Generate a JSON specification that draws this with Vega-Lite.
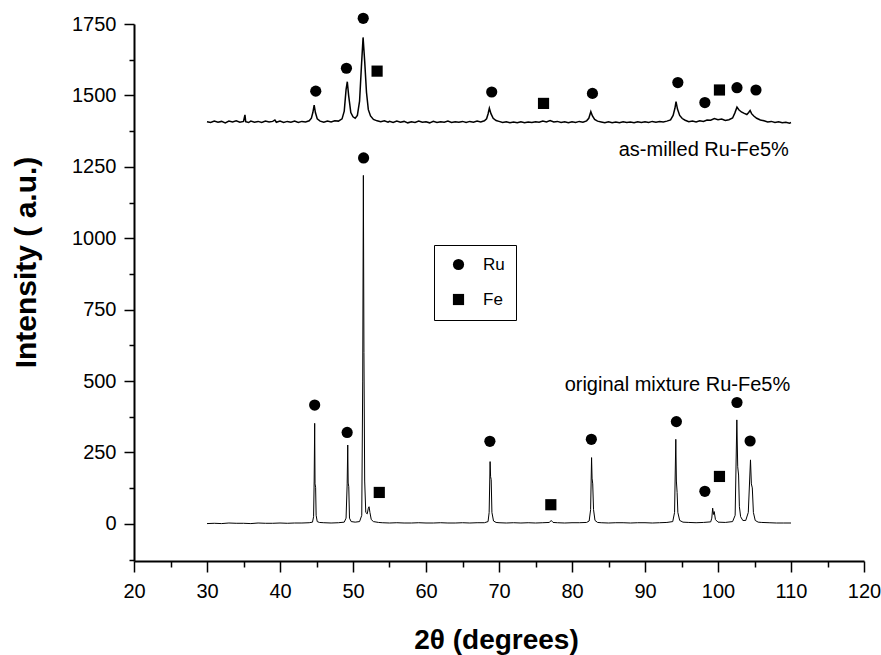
{
  "$schema": "https://vega.github.io/schema/vega-lite/v6.json",
  "autosize": {"type": "none"},
  "padding": {"left": 134, "top": 24, "right": 17, "bottom": 94},
  "width": 730,
  "height": 537,
  "background": "white",
  "config": {
    "view": {"stroke": null},
    "font": "Liberation Sans",
    "axis": {
      "grid": false,
      "domainColor": "black",
      "domainWidth": 2,
      "tickColor": "black",
      "tickWidth": 1.5,
      "labelColor": "black",
      "labelFont": "Liberation Sans",
      "labelFontSize": 20,
      "titleColor": "black",
      "titleFont": "Liberation Sans",
      "titleFontWeight": "bold"
    }
  },
  "datasets": {
    "trace": [
      {"series":"orig","angle":30,"intensity":1},{"series":"orig","angle":31,"intensity":2},{"series":"orig","angle":32,"intensity":1},{"series":"orig","angle":33,"intensity":3},{"series":"orig","angle":34,"intensity":2},{"series":"orig","angle":35,"intensity":2},{"series":"orig","angle":36,"intensity":1},{"series":"orig","angle":37,"intensity":3},{"series":"orig","angle":38,"intensity":2},{"series":"orig","angle":39,"intensity":2},{"series":"orig","angle":40,"intensity":3},{"series":"orig","angle":41,"intensity":2},{"series":"orig","angle":42,"intensity":3},{"series":"orig","angle":43,"intensity":3},{"series":"orig","angle":44,"intensity":4},
      {"series":"orig","angle":44.45,"intensity":6},{"series":"orig","angle":44.6,"intensity":25},{"series":"orig","angle":44.68,"intensity":150},{"series":"orig","angle":44.75,"intensity":352},{"series":"orig","angle":44.8,"intensity":140},{"series":"orig","angle":44.88,"intensity":128},{"series":"orig","angle":44.95,"intensity":30},{"series":"orig","angle":45.1,"intensity":8},{"series":"orig","angle":45.4,"intensity":5},{"series":"orig","angle":46,"intensity":4},{"series":"orig","angle":47,"intensity":3},{"series":"orig","angle":48,"intensity":4},{"series":"orig","angle":48.8,"intensity":6},
      {"series":"orig","angle":49.05,"intensity":20},{"series":"orig","angle":49.2,"intensity":140},{"series":"orig","angle":49.28,"intensity":276},{"series":"orig","angle":49.34,"intensity":143},{"series":"orig","angle":49.42,"intensity":130},{"series":"orig","angle":49.52,"intensity":20},{"series":"orig","angle":49.75,"intensity":8},{"series":"orig","angle":50.3,"intensity":6},{"series":"orig","angle":50.9,"intensity":8},{"series":"orig","angle":51.2,"intensity":30},{"series":"orig","angle":51.33,"intensity":500},{"series":"orig","angle":51.42,"intensity":1220},{"series":"orig","angle":51.5,"intensity":600},{"series":"orig","angle":51.6,"intensity":150},{"series":"orig","angle":51.75,"intensity":40},{"series":"orig","angle":51.95,"intensity":35},{"series":"orig","angle":52.1,"intensity":55},{"series":"orig","angle":52.2,"intensity":60},{"series":"orig","angle":52.32,"intensity":40},{"series":"orig","angle":52.5,"intensity":15},{"series":"orig","angle":52.8,"intensity":8},{"series":"orig","angle":53.5,"intensity":5},{"series":"orig","angle":54,"intensity":4},{"series":"orig","angle":55,"intensity":3},{"series":"orig","angle":56,"intensity":4},{"series":"orig","angle":57,"intensity":3},{"series":"orig","angle":58,"intensity":3},{"series":"orig","angle":59,"intensity":4},{"series":"orig","angle":60,"intensity":3},{"series":"orig","angle":61,"intensity":3},{"series":"orig","angle":62,"intensity":4},{"series":"orig","angle":63,"intensity":3},{"series":"orig","angle":64,"intensity":3},{"series":"orig","angle":65,"intensity":4},{"series":"orig","angle":66,"intensity":3},{"series":"orig","angle":67,"intensity":4},{"series":"orig","angle":68,"intensity":4},
      {"series":"orig","angle":68.5,"intensity":8},{"series":"orig","angle":68.65,"intensity":40},{"series":"orig","angle":68.78,"intensity":218},{"series":"orig","angle":68.85,"intensity":165},{"series":"orig","angle":68.93,"intensity":155},{"series":"orig","angle":69.03,"intensity":40},{"series":"orig","angle":69.25,"intensity":10},{"series":"orig","angle":69.6,"intensity":5},{"series":"orig","angle":70,"intensity":4},{"series":"orig","angle":71,"intensity":3},{"series":"orig","angle":72,"intensity":4},{"series":"orig","angle":73,"intensity":3},{"series":"orig","angle":74,"intensity":4},{"series":"orig","angle":75,"intensity":3},{"series":"orig","angle":76,"intensity":4},{"series":"orig","angle":76.9,"intensity":5},{"series":"orig","angle":77.15,"intensity":12},{"series":"orig","angle":77.4,"intensity":5},{"series":"orig","angle":78,"intensity":4},{"series":"orig","angle":79,"intensity":3},{"series":"orig","angle":80,"intensity":4},{"series":"orig","angle":81,"intensity":4},{"series":"orig","angle":82,"intensity":5},
      {"series":"orig","angle":82.35,"intensity":10},{"series":"orig","angle":82.55,"intensity":50},{"series":"orig","angle":82.68,"intensity":232},{"series":"orig","angle":82.75,"intensity":160},{"series":"orig","angle":82.84,"intensity":140},{"series":"orig","angle":82.95,"intensity":50},{"series":"orig","angle":83.15,"intensity":12},{"series":"orig","angle":83.5,"intensity":5},{"series":"orig","angle":84,"intensity":4},{"series":"orig","angle":85,"intensity":3},{"series":"orig","angle":86,"intensity":4},{"series":"orig","angle":87,"intensity":4},{"series":"orig","angle":88,"intensity":3},{"series":"orig","angle":89,"intensity":4},{"series":"orig","angle":90,"intensity":4},{"series":"orig","angle":91,"intensity":3},{"series":"orig","angle":92,"intensity":4},{"series":"orig","angle":93,"intensity":5},
      {"series":"orig","angle":93.8,"intensity":8},{"series":"orig","angle":94.05,"intensity":40},{"series":"orig","angle":94.22,"intensity":296},{"series":"orig","angle":94.3,"intensity":150},{"series":"orig","angle":94.4,"intensity":110},{"series":"orig","angle":94.5,"intensity":40},{"series":"orig","angle":94.75,"intensity":12},{"series":"orig","angle":95.2,"intensity":6},{"series":"orig","angle":96,"intensity":5},{"series":"orig","angle":97,"intensity":4},{"series":"orig","angle":98,"intensity":5},{"series":"orig","angle":99,"intensity":7},{"series":"orig","angle":99.15,"intensity":20},{"series":"orig","angle":99.27,"intensity":55},{"series":"orig","angle":99.38,"intensity":33},{"series":"orig","angle":99.48,"intensity":43},{"series":"orig","angle":99.65,"intensity":15},{"series":"orig","angle":100,"intensity":6},{"series":"orig","angle":101,"intensity":5},{"series":"orig","angle":102,"intensity":8},
      {"series":"orig","angle":102.35,"intensity":30},{"series":"orig","angle":102.58,"intensity":364},{"series":"orig","angle":102.7,"intensity":200},{"series":"orig","angle":102.82,"intensity":171},{"series":"orig","angle":102.93,"intensity":60},{"series":"orig","angle":103.1,"intensity":25},{"series":"orig","angle":103.4,"intensity":12},{"series":"orig","angle":103.8,"intensity":12},{"series":"orig","angle":104.15,"intensity":40},{"series":"orig","angle":104.45,"intensity":224},{"series":"orig","angle":104.57,"intensity":140},{"series":"orig","angle":104.7,"intensity":126},{"series":"orig","angle":104.85,"intensity":40},{"series":"orig","angle":105.1,"intensity":12},{"series":"orig","angle":105.5,"intensity":6},{"series":"orig","angle":106,"intensity":5},{"series":"orig","angle":107,"intensity":4},{"series":"orig","angle":108,"intensity":3},{"series":"orig","angle":109,"intensity":3},{"series":"orig","angle":110,"intensity":3},

      {"series":"milled","angle":30,"intensity":1408},{"series":"milled","angle":30.5,"intensity":1405},{"series":"milled","angle":31,"intensity":1410},{"series":"milled","angle":31.5,"intensity":1406},{"series":"milled","angle":32,"intensity":1409},{"series":"milled","angle":32.5,"intensity":1404},{"series":"milled","angle":33,"intensity":1410},{"series":"milled","angle":33.5,"intensity":1407},{"series":"milled","angle":34,"intensity":1411},{"series":"milled","angle":34.5,"intensity":1406},{"series":"milled","angle":35,"intensity":1409},{"series":"milled","angle":35.2,"intensity":1432},{"series":"milled","angle":35.3,"intensity":1408},{"series":"milled","angle":35.7,"intensity":1405},{"series":"milled","angle":36,"intensity":1410},{"series":"milled","angle":36.5,"intensity":1406},{"series":"milled","angle":37,"intensity":1409},{"series":"milled","angle":37.5,"intensity":1405},{"series":"milled","angle":38,"intensity":1410},{"series":"milled","angle":38.5,"intensity":1407},{"series":"milled","angle":39,"intensity":1409},{"series":"milled","angle":39.3,"intensity":1414},{"series":"milled","angle":39.5,"intensity":1406},{"series":"milled","angle":40,"intensity":1410},{"series":"milled","angle":40.5,"intensity":1405},{"series":"milled","angle":41,"intensity":1409},{"series":"milled","angle":41.5,"intensity":1406},{"series":"milled","angle":42,"intensity":1410},{"series":"milled","angle":42.5,"intensity":1405},{"series":"milled","angle":43,"intensity":1409},{"series":"milled","angle":43.5,"intensity":1407},{"series":"milled","angle":44,"intensity":1411},
      {"series":"milled","angle":44.3,"intensity":1420},{"series":"milled","angle":44.5,"intensity":1440},{"series":"milled","angle":44.68,"intensity":1466},{"series":"milled","angle":44.85,"intensity":1440},{"series":"milled","angle":45.1,"intensity":1418},{"series":"milled","angle":45.5,"intensity":1410},{"series":"milled","angle":46,"intensity":1406},{"series":"milled","angle":46.5,"intensity":1410},{"series":"milled","angle":47,"intensity":1407},{"series":"milled","angle":47.5,"intensity":1411},{"series":"milled","angle":48,"intensity":1410},{"series":"milled","angle":48.5,"intensity":1418},{"series":"milled","angle":48.8,"intensity":1445},{"series":"milled","angle":49.05,"intensity":1520},{"series":"milled","angle":49.22,"intensity":1548},{"series":"milled","angle":49.4,"intensity":1500},{"series":"milled","angle":49.7,"intensity":1440},{"series":"milled","angle":50,"intensity":1425},{"series":"milled","angle":50.3,"intensity":1420},{"series":"milled","angle":50.6,"intensity":1430},{"series":"milled","angle":50.9,"intensity":1480},{"series":"milled","angle":51.15,"intensity":1600},{"series":"milled","angle":51.38,"intensity":1703},{"series":"milled","angle":51.6,"intensity":1620},{"series":"milled","angle":51.85,"intensity":1510},{"series":"milled","angle":52.1,"intensity":1450},{"series":"milled","angle":52.4,"intensity":1428},{"series":"milled","angle":52.8,"intensity":1416},{"series":"milled","angle":53.3,"intensity":1411},{"series":"milled","angle":53.8,"intensity":1408},{"series":"milled","angle":54.3,"intensity":1411},{"series":"milled","angle":54.8,"intensity":1406},
      {"series":"milled","angle":55,"intensity":1409},{"series":"milled","angle":55.5,"intensity":1405},{"series":"milled","angle":56,"intensity":1410},{"series":"milled","angle":56.5,"intensity":1406},{"series":"milled","angle":57,"intensity":1409},{"series":"milled","angle":57.5,"intensity":1404},{"series":"milled","angle":58,"intensity":1408},{"series":"milled","angle":58.5,"intensity":1405},{"series":"milled","angle":59,"intensity":1410},{"series":"milled","angle":59.5,"intensity":1406},{"series":"milled","angle":60,"intensity":1408},{"series":"milled","angle":60.5,"intensity":1404},{"series":"milled","angle":61,"intensity":1409},{"series":"milled","angle":61.5,"intensity":1405},{"series":"milled","angle":62,"intensity":1408},{"series":"milled","angle":62.5,"intensity":1406},{"series":"milled","angle":63,"intensity":1410},{"series":"milled","angle":63.5,"intensity":1405},{"series":"milled","angle":64,"intensity":1408},{"series":"milled","angle":64.5,"intensity":1406},{"series":"milled","angle":65,"intensity":1409},{"series":"milled","angle":65.5,"intensity":1405},{"series":"milled","angle":66,"intensity":1409},{"series":"milled","angle":66.5,"intensity":1406},{"series":"milled","angle":67,"intensity":1410},{"series":"milled","angle":67.5,"intensity":1407},{"series":"milled","angle":68,"intensity":1411},
      {"series":"milled","angle":68.3,"intensity":1418},{"series":"milled","angle":68.5,"intensity":1435},{"series":"milled","angle":68.68,"intensity":1455},{"series":"milled","angle":68.9,"intensity":1436},{"series":"milled","angle":69.2,"intensity":1420},{"series":"milled","angle":69.6,"intensity":1412},{"series":"milled","angle":70,"intensity":1409},{"series":"milled","angle":70.5,"intensity":1405},{"series":"milled","angle":71,"intensity":1408},{"series":"milled","angle":71.5,"intensity":1404},{"series":"milled","angle":72,"intensity":1407},{"series":"milled","angle":72.5,"intensity":1404},{"series":"milled","angle":73,"intensity":1408},{"series":"milled","angle":73.5,"intensity":1404},{"series":"milled","angle":74,"intensity":1407},{"series":"milled","angle":74.5,"intensity":1405},{"series":"milled","angle":75,"intensity":1408},{"series":"milled","angle":75.5,"intensity":1406},{"series":"milled","angle":76,"intensity":1410},{"series":"milled","angle":76.5,"intensity":1407},{"series":"milled","angle":77,"intensity":1412},{"series":"milled","angle":77.5,"intensity":1407},{"series":"milled","angle":78,"intensity":1409},{"series":"milled","angle":78.5,"intensity":1405},{"series":"milled","angle":79,"intensity":1408},{"series":"milled","angle":79.5,"intensity":1404},{"series":"milled","angle":80,"intensity":1408},{"series":"milled","angle":80.5,"intensity":1405},{"series":"milled","angle":81,"intensity":1409},{"series":"milled","angle":81.5,"intensity":1406},{"series":"milled","angle":82,"intensity":1411},
      {"series":"milled","angle":82.3,"intensity":1420},{"series":"milled","angle":82.45,"intensity":1432},{"series":"milled","angle":82.58,"intensity":1443},{"series":"milled","angle":82.8,"intensity":1428},{"series":"milled","angle":83.1,"intensity":1416},{"series":"milled","angle":83.5,"intensity":1410},{"series":"milled","angle":84,"intensity":1407},{"series":"milled","angle":84.5,"intensity":1404},{"series":"milled","angle":85,"intensity":1408},{"series":"milled","angle":85.5,"intensity":1404},{"series":"milled","angle":86,"intensity":1407},{"series":"milled","angle":86.5,"intensity":1404},{"series":"milled","angle":87,"intensity":1408},{"series":"milled","angle":87.5,"intensity":1405},{"series":"milled","angle":88,"intensity":1407},{"series":"milled","angle":88.5,"intensity":1404},{"series":"milled","angle":89,"intensity":1408},{"series":"milled","angle":89.5,"intensity":1405},{"series":"milled","angle":90,"intensity":1408},{"series":"milled","angle":90.5,"intensity":1405},{"series":"milled","angle":91,"intensity":1409},{"series":"milled","angle":91.5,"intensity":1406},{"series":"milled","angle":92,"intensity":1409},{"series":"milled","angle":92.5,"intensity":1407},{"series":"milled","angle":93,"intensity":1410},
      {"series":"milled","angle":93.5,"intensity":1414},{"series":"milled","angle":93.85,"intensity":1430},{"series":"milled","angle":94.1,"intensity":1455},{"series":"milled","angle":94.25,"intensity":1478},{"series":"milled","angle":94.45,"intensity":1452},{"series":"milled","angle":94.75,"intensity":1430},{"series":"milled","angle":95.1,"intensity":1419},{"series":"milled","angle":95.5,"intensity":1413},{"series":"milled","angle":96,"intensity":1408},{"series":"milled","angle":96.5,"intensity":1410},{"series":"milled","angle":97,"intensity":1407},{"series":"milled","angle":97.5,"intensity":1411},{"series":"milled","angle":98,"intensity":1409},{"series":"milled","angle":98.5,"intensity":1414},{"series":"milled","angle":99,"intensity":1413},{"series":"milled","angle":99.5,"intensity":1419},{"series":"milled","angle":100,"intensity":1415},{"series":"milled","angle":100.5,"intensity":1417},{"series":"milled","angle":101,"intensity":1412},{"series":"milled","angle":101.5,"intensity":1415},{"series":"milled","angle":102,"intensity":1421},
      {"series":"milled","angle":102.3,"intensity":1438},{"series":"milled","angle":102.6,"intensity":1459},{"series":"milled","angle":102.85,"intensity":1450},{"series":"milled","angle":103.2,"intensity":1442},{"series":"milled","angle":103.6,"intensity":1437},{"series":"milled","angle":103.95,"intensity":1433},{"series":"milled","angle":104.2,"intensity":1440},{"series":"milled","angle":104.4,"intensity":1447},{"series":"milled","angle":104.6,"intensity":1436},{"series":"milled","angle":104.9,"intensity":1428},{"series":"milled","angle":105.3,"intensity":1420},{"series":"milled","angle":105.8,"intensity":1414},{"series":"milled","angle":106.3,"intensity":1411},{"series":"milled","angle":106.8,"intensity":1407},{"series":"milled","angle":107.3,"intensity":1409},{"series":"milled","angle":107.8,"intensity":1405},{"series":"milled","angle":108.3,"intensity":1408},{"series":"milled","angle":108.8,"intensity":1404},{"series":"milled","angle":109.3,"intensity":1406},{"series":"milled","angle":109.8,"intensity":1403},{"series":"milled","angle":110,"intensity":1405}
    ],
    "markers": [
      {"phase":"Ru","angle":44.75,"intensity":416},{"phase":"Ru","angle":49.2,"intensity":320},{"phase":"Ru","angle":51.45,"intensity":1281},{"phase":"Ru","angle":68.75,"intensity":289},{"phase":"Ru","angle":82.65,"intensity":296},{"phase":"Ru","angle":94.3,"intensity":358},{"phase":"Ru","angle":98.2,"intensity":114},{"phase":"Ru","angle":102.6,"intensity":425},{"phase":"Ru","angle":104.4,"intensity":290},
      {"phase":"Fe","angle":53.6,"intensity":110},{"phase":"Fe","angle":77.1,"intensity":67},{"phase":"Fe","angle":100.2,"intensity":166},
      {"phase":"Ru","angle":44.9,"intensity":1515},{"phase":"Ru","angle":49.1,"intensity":1595},{"phase":"Ru","angle":51.4,"intensity":1770},{"phase":"Ru","angle":69.0,"intensity":1512},{"phase":"Ru","angle":82.8,"intensity":1507},{"phase":"Ru","angle":94.5,"intensity":1545},{"phase":"Ru","angle":98.2,"intensity":1475},{"phase":"Ru","angle":102.6,"intensity":1527},{"phase":"Ru","angle":105.2,"intensity":1519},
      {"phase":"Fe","angle":53.3,"intensity":1585},{"phase":"Fe","angle":76.1,"intensity":1472},{"phase":"Fe","angle":100.2,"intensity":1519}
    ],
    "labels": [
      {"angle":109.7,"intensity":1288,"label":"as-milled Ru-Fe5%"},
      {"angle":109.9,"intensity":465,"label":"original mixture Ru-Fe5%"}
    ]
  },
  "resolve": {"axis": {"x": "independent", "y": "independent"}},
  "layer": [
    {
      "data": {"name": "trace"},
      "transform": [{"filter": "datum.series === 'orig'"}],
      "mark": {"type": "line", "color": "black", "strokeWidth": 1, "interpolate": "linear"},
      "encoding": {
        "x": {
          "field": "angle", "type": "quantitative",
          "scale": {"domain": [20, 120], "nice": false, "zero": false},
          "axis": {
            "orient": "bottom",
            "values": [20, 30, 40, 50, 60, 70, 80, 90, 100, 110, 120],
            "format": "d",
            "tickSize": 11, "labelPadding": 9,
            "title": "2θ (degrees)", "titleFontSize": 28,
            "titleX": 362, "titleY": 87, "titleAlign": "center", "titleBaseline": "alphabetic",
            "labelFlush": false
          }
        },
        "y": {
          "field": "intensity", "type": "quantitative",
          "scale": {"domain": [-130, 1750], "nice": false, "zero": false},
          "axis": {
            "orient": "left",
            "values": [0, 250, 500, 750, 1000, 1250, 1500, 1750],
            "format": "d",
            "tickSize": 10, "labelPadding": 8,
            "title": "Intensity ( a.u.)", "titleFontSize": 30,
            "titleAngle": -90, "titleX": -99, "titleY": 238, "titleAlign": "center", "titleBaseline": "alphabetic",
            "labelFlush": false
          }
        }
      }
    },
    {
      "data": {"name": "trace"},
      "transform": [{"filter": "datum.series === 'milled'"}],
      "mark": {"type": "line", "color": "black", "strokeWidth": 1.5},
      "encoding": {
        "x": {"field": "angle", "type": "quantitative", "axis": null},
        "y": {"field": "intensity", "type": "quantitative", "axis": null}
      }
    },
    {
      "data": {"name": "markers"},
      "mark": {"type": "point", "filled": true, "color": "black", "opacity": 1, "size": 125},
      "encoding": {
        "x": {
          "field": "angle", "type": "quantitative",
          "axis": {
            "orient": "bottom",
            "values": [25, 35, 45, 55, 65, 75, 85, 95, 105, 115],
            "tickSize": 6, "labels": false, "domain": false, "title": null
          }
        },
        "y": {
          "field": "intensity", "type": "quantitative",
          "axis": {
            "orient": "left",
            "values": [-125, 125, 375, 625, 875, 1125, 1375, 1625],
            "tickSize": 5, "labels": false, "domain": false, "title": null
          }
        },
        "shape": {
          "field": "phase", "type": "nominal",
          "scale": {"domain": ["Ru", "Fe"], "range": ["circle", "square"]},
          "legend": {
            "orient": "none", "legendX": 300, "legendY": 221,
            "title": null,
            "strokeColor": "black", "fillColor": "white",
            "padding": 11, "rowPadding": 16,
            "labelFontSize": 17, "labelColor": "black", "labelFont": "Liberation Sans",
            "labelOffset": 16, "symbolOffset": 5,
            "symbolFillColor": "black", "symbolStrokeColor": "black", "symbolSize": 125,
            "encode": {"legend": {"update": {"strokeWidth": {"value": 1.5}}}}
          }
        }
      }
    },
    {
      "data": {"name": "labels"},
      "mark": {"type": "text", "align": "right", "baseline": "alphabetic", "fontSize": 20, "font": "Liberation Sans", "color": "black"},
      "encoding": {
        "x": {"field": "angle", "type": "quantitative", "axis": null},
        "y": {"field": "intensity", "type": "quantitative", "axis": null},
        "text": {"field": "label"}
      }
    }
  ]
}
